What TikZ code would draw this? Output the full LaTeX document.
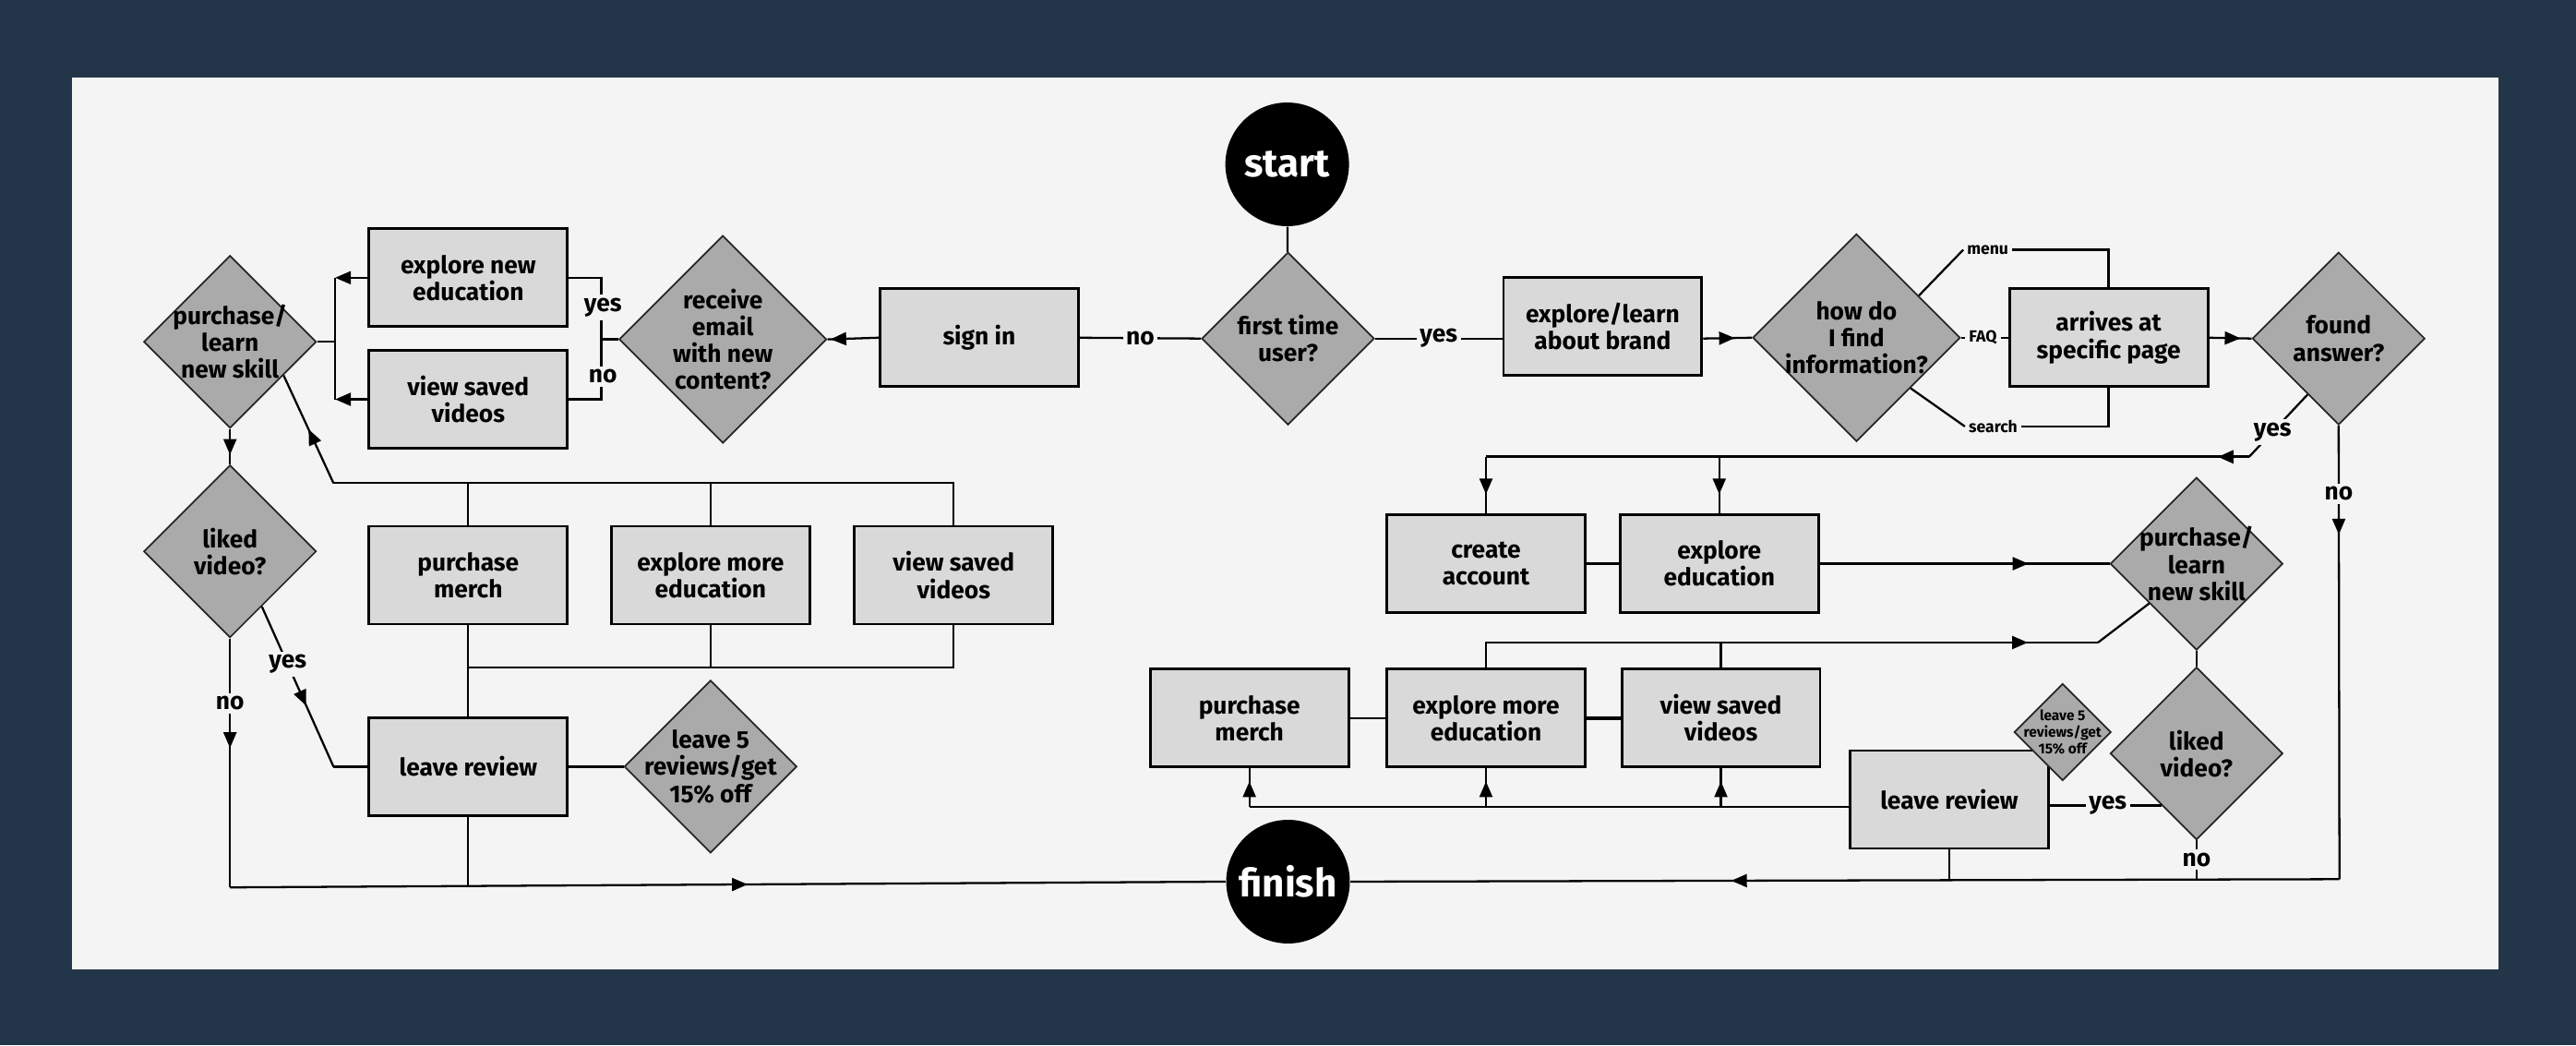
\documentclass[tikz,border=0pt]{standalone}
\usepackage{fontspec}
\setmainfont{Fira Sans}
\usetikzlibrary{shapes.geometric, arrows.meta, positioning, decorations.markings}

\definecolor{navy}{HTML}{233548}
\definecolor{panel}{HTML}{F4F4F4}
\definecolor{boxgray}{HTML}{D9D9D9}
\definecolor{diagray}{HTML}{AAAAAA}

\begin{document}
\begin{tikzpicture}[
    x=0.0178cm, y=-0.0178cm,
    >={Triangle[length=1.7mm, width=1.4mm]},
    process/.style={rectangle, draw=black, line width=0.8pt, fill=boxgray, minimum width=2.15cm, minimum height=1.06cm, inner sep=1pt, align=center, font=\bfseries\fontsize{7.5}{8.3}\selectfont},
    decision/.style={diamond, draw=black!85, line width=0.5pt, fill=diagray, minimum width=#1, minimum height=#1, inner sep=0pt},
    decision/.default=1.87cm,
    dtext/.style={align=center, inner sep=0pt, font=\bfseries\fontsize{7.5}{8.3}\selectfont},
    dsmall/.style={align=center, inner sep=0pt, font=\bfseries\fontsize{4.4}{5}\selectfont},
    terminal/.style={circle, fill=black, minimum size=1.34cm, inner sep=0pt, text=white, font=\bfseries\fontsize{12}{14}\selectfont},
    conn/.style={draw=black, line width=0.65pt},
    lbl/.style={fill=panel, inner sep=1pt, font=\bfseries\fontsize{7.5}{8.3}\selectfont},
    optlbl/.style={fill=panel, inner sep=1pt, font=\bfseries\fontsize{5}{6}\selectfont},
    midtip/.style={postaction={decorate}, decoration={markings, mark=at position #1 with {\arrow{>}}}}
]

% background and panel
\fill[navy] (0,0) rectangle (1568,636);
\fill[panel] (44,47) rectangle (1521,590);

% start / finish
\node[terminal] (start) at (783.5,100) {start};
\node[terminal] (finish) at (784,536.5) {finish};

% returning user (left)
\node[decision, label={[dtext]center:{first time\\user?}}] (first) at (784,206) {};
\node[process] (signin) at (596,205.5) {sign in};
\node[decision=2.25cm, label={[dtext]center:{receive\\email\\with new\\content?}}] (email) at (440,206.5) {};
\node[process] (exnew) at (285,169) {explore new\\education};
\node[process] (vsaved) at (285,243) {view saved\\videos};
\node[decision, label={[dtext]center:{purchase/\\learn\\new skill}}] (learnL) at (140,208) {};
\node[decision, label={[dtext]center:{liked\\video?}}] (likedL) at (140,335.5) {};
\node[process] (merchL) at (285,350) {purchase\\merch};
\node[process] (moreL) at (432.5,350) {explore more\\education};
\node[process] (savedL) at (580.5,350) {view saved\\videos};
\node[process] (reviewL) at (285,466.5) {leave review};
\node[decision, label={[dtext]center:{leave 5\\reviews/get\\15\% off}}] (bonusL) at (432.5,466.5) {};

% new user (right)
\node[process] (brand) at (975.5,198.5) {explore/learn\\about brand};
\node[decision=2.25cm, label={[dtext]center:{how do\\I find\\information?}}] (howfind) at (1130,205.5) {};
\node[process] (page) at (1283.5,205.5) {arrives at\\specific page};
\node[decision, label={[dtext]center:{found\\answer?}}] (found) at (1423.5,206) {};
\node[process] (account) at (904.5,343) {create\\account};
\node[process] (edu) at (1046.5,343) {explore\\education};
\node[decision, label={[dtext]center:{purchase/\\learn\\new skill}}] (learnR) at (1337,343) {};
\node[decision, label={[dtext]center:{liked\\video?}}] (likedR) at (1337,458.5) {};
\node[process] (merchR) at (760.5,437) {purchase\\merch};
\node[process] (moreR) at (904.5,437) {explore more\\education};
\node[process] (savedR) at (1047.5,437) {view saved\\videos};
\node[process] (reviewR) at (1186.5,486.5) {leave review};
\node[decision=1.05cm, label={[dsmall]center:{leave 5\\reviews/get\\15\% off}}] (bonusR) at (1255.5,445.5) {};

% helper points
\coordinate (ejoin) at (366,206.5);
\coordinate (ljoin) at (204,208);
\coordinate (topL) at (203,294);
\coordinate (barL) at (0,406);
\coordinate (yjoin) at (203,466.5);
\coordinate (cornerL) at (140,540);
\coordinate (fjoin) at (1369,278);
\coordinate (cornerR) at (1424,535);
\coordinate (barR) at (0,491);
\coordinate (ejoin2) at (1277,391);

% left branch
\draw[conn] (start) -- (first);
\draw[conn] (first.west) -- node[lbl] (noFirst) {no} (signin.east);
\draw[conn, midtip=0.94] (signin.west) -- (email.east);
\draw[conn] (email.west) -- (ejoin);
\draw[conn] (exnew.east) -| (ejoin) |- (vsaved.east);
\node[lbl] (yesEmail) at (367,187) {yes};
\node[lbl] (noEmail) at (367,229) {no};
\draw[conn] (learnL.east) -- (ljoin);
\draw[conn] (ljoin |- exnew) -- (ljoin |- vsaved);
\draw[conn, ->] (exnew.west) -- (ljoin |- exnew);
\draw[conn, ->] (vsaved.west) -- (ljoin |- vsaved);
\draw[conn, midtip=0.73] (learnL.south) -- (likedL.north);

\draw[conn] (savedL.north) |- (topL);
\draw[conn] (merchL.north) -- (merchL.north |- topL);
\draw[conn] (moreL.north) -- (moreL.north |- topL);
\draw[conn, midtip=0.5] (topL) -- (learnL.-32);
\draw[conn] (merchL.south) -- (reviewL.north);
\draw[conn] (savedL.south) |- (merchL.south |- barL);
\draw[conn] (moreL.south) -- (moreL.south |- barL);
\draw[conn] (reviewL) -- (bonusL);

\draw[conn, midtip=0.62] (likedL.-60) -- node[lbl, pos=0.36] (yesLiked) {yes} (yjoin);
\draw[conn] (yjoin) -- (reviewL.west);
\draw[conn, midtip=0.44] (likedL.south) -- node[lbl, pos=0.26] (noLiked) {no} (cornerL);
\draw[conn, midtip=0.52] (cornerL) -- (finish.west);
\draw[conn] (reviewL.south) -- (reviewL.south |- 0,539.3);

% right branch
\draw[conn] (first.east) -- node[lbl] (yesFirst) {yes} (first.east -| brand.west);
\draw[conn, midtip=0.65] (first.east -| brand.east) -- (howfind.west);
\node[optlbl, anchor=west] (menu) at (1195,152) {menu};
\node[optlbl] (faq) at (1207,205.5) {FAQ};
\node[optlbl, anchor=west] (search) at (1196,259.5) {search};
\draw[conn] (howfind.34) -- (menu.west);
\draw[conn] (menu.east) -| (page.north);
\draw[conn] (howfind.east) -- (faq.west);
\draw[conn] (faq.east) -- (page.west);
\draw[conn] (howfind.-43) -- (search.west);
\draw[conn] (search.east) -| (page.south);
\draw[conn, midtip=0.74] (page.east) -- (found.west);

\draw[conn] (found.-119) -- node[lbl, pos=0.6] (yesFound) {yes} (fjoin);
\draw[conn, line width=0.9pt, midtip=0.041] (fjoin) -- (account.north |- fjoin);
\draw[conn, midtip=0.66] (account.north |- fjoin) -- (account.north);
\draw[conn, midtip=0.66] (edu.north |- fjoin) -- (edu.north);
\draw[conn, midtip=0.24] (found.south) -- node[lbl, pos=0.15] (noFound) {no} (cornerR);
\draw[conn, midtip=0.615] (cornerR) -- (finish.east);

\draw[conn] (account) -- (edu);
\draw[conn, midtip=0.72] (edu.east) -- (learnR.west);
\draw[conn] (learnR) -- (likedR);
\draw[conn] (likedR.-124) -- node[lbl, pos=0.48] (yesLikedR) {yes} (likedR.-124 -| reviewR.east);
\draw[conn] (likedR.south) -- node[lbl] (noLikedR) {no} (likedR.south |- cornerR);
\draw[conn] (reviewR.south) -- (reviewR.south |- cornerR);

\draw[conn] (reviewR.west |- barR) -- (merchR.south |- barR);
\draw[conn, midtip=0.66] (merchR.south |- barR) -- (merchR.south);
\draw[conn, midtip=0.66] (moreR.south |- barR) -- (moreR.south);
\draw[conn, midtip=0.66] (savedR.south |- barR) -- (savedR.south);
\draw[conn] (merchR) -- (moreR);
\draw[conn, line width=1.3pt] (moreR) -- (savedR);
\draw[conn, midtip=0.89] (moreR.north) |- (ejoin2);
\draw[conn] (ejoin2) -- (learnR.-140);
\draw[conn] (savedR.north) -- (savedR.north |- ejoin2);

\end{tikzpicture}
\end{document}
